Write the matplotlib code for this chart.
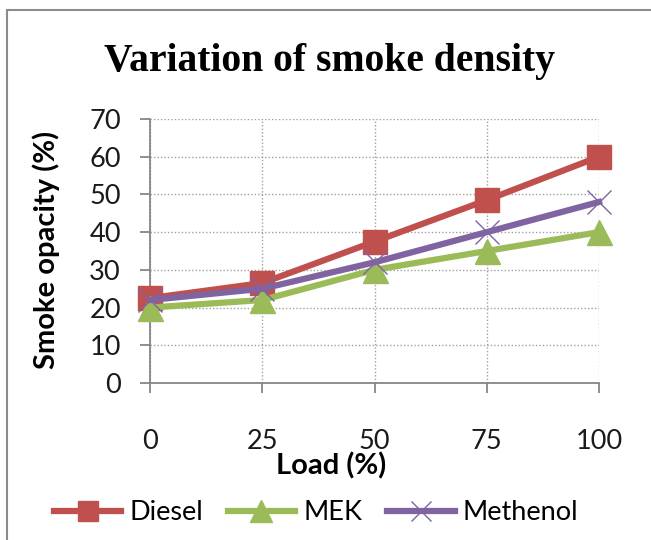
import matplotlib
matplotlib.use("Agg")
import matplotlib.pyplot as plt
from matplotlib.patches import Rectangle

# Smoke opacity (%) against engine load (%)
loads = [0, 25, 50, 75, 100]
diesel = [22.5, 26.5, 37.5, 48.5, 60]
mek = [20, 22, 30, 35, 40]
methenol = [22, 25, 32, 40, 48]
y_ticks = [0, 10, 20, 30, 40, 50, 60, 70]

W, H = 651, 540
fig = plt.figure(figsize=(W / 100, H / 100), dpi=100)
fig.patch.set_facecolor("white")

# chart-area frame
fig.patches.append(Rectangle((7 / W, -0.1), 1.2, (H - 10) / H + 0.1,
                             transform=fig.transFigure, fill=False,
                             edgecolor="#8c8c8c", linewidth=1.5))

ax = fig.add_axes([150 / W, (H - 383) / H, 449 / W, 264 / H])

tick_font = "Lato"
grey = "#868686"

series = [
    ("Diesel", diesel, "#C0504D", "s", 17),
    ("MEK", mek, "#9BBB59", "^", 18),
    ("Methenol", methenol, "#8064A2", "x", 17),
]
for name, vals, col, mk, ms in series:
    ax.plot(loads, vals, color=col, linewidth=4.5, marker=mk, markersize=ms,
            markeredgewidth=1.0, markerfacecolor=col, markeredgecolor=col,
            clip_on=False, label=name, zorder=3)

ax.set_xlim(0, 100)
ax.set_ylim(0, 70)
ax.set_xticks(loads)
ax.set_yticks(y_ticks)
ax.grid(True, linestyle=(0, (1, 1.5)), color="#a0a0a0", linewidth=1.0)
ax.set_axisbelow(True)

for s in ("top", "right"):
    ax.spines[s].set_visible(False)
for s in ("left", "bottom"):
    ax.spines[s].set_color(grey)
    ax.spines[s].set_linewidth(1.3)

ax.tick_params(axis="both", colors=grey, length=7, width=1.3, direction="out")
ax.tick_params(axis="y", pad=14, labelsize=19.5, labelcolor="#1a1a1a")
ax.tick_params(axis="x", pad=26, labelsize=19.5, labelcolor="#1a1a1a")
for lab in ax.get_xticklabels() + ax.get_yticklabels():
    lab.set_fontfamily(tick_font)

fig.text(330 / W, 1 - 62 / H, "Variation of smoke density",
         ha="center", va="center", fontsize=28.5, fontweight="bold",
         family="Liberation Serif")
fig.text(46 / W, 1 - 250 / H, "Smoke opacity (%)", rotation=90,
         ha="center", va="center", fontsize=21, fontweight="bold",
         family=tick_font)
fig.text(331 / W, 1 - 466 / H, "Load (%)", ha="center", va="center",
         fontsize=21, fontweight="bold", family=tick_font)

leg = fig.legend(loc="center", bbox_to_anchor=(316 / W, 1 - 513 / H),
                 ncol=3, frameon=False, prop={"family": tick_font, "size": 19.5},
                 handlelength=2.5, handletextpad=0.3, columnspacing=0.9,
                 markerscale=0.85)

fig.savefig("out.png", dpi=100)
